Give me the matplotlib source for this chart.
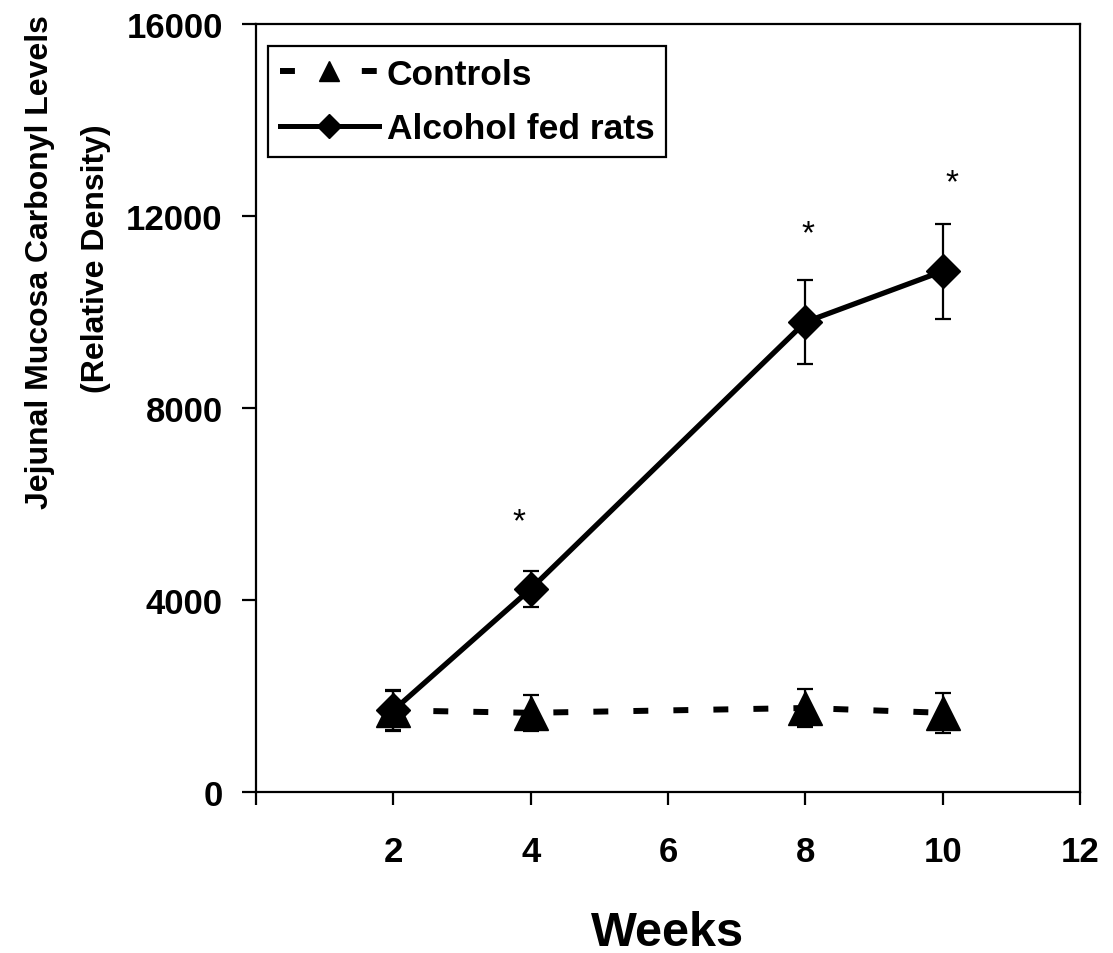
import matplotlib
matplotlib.use("Agg")
import matplotlib.pyplot as plt
from matplotlib.lines import Line2D

plt.rcParams['font.family'] = ['Liberation Sans', 'DejaVu Sans']
plt.rcParams['font.weight'] = 'bold'

# ---- data ----
weeks = [2, 4, 8, 10]
controls_mean = [1700, 1650, 1750, 1650]
controls_err = [400, 380, 400, 420]
alcohol_mean = [1700, 4230, 9790, 10850]
alcohol_err = [420, 370, 880, 990]
star_x = [3.83, 8.04, 10.13]
star_y = [5620, 11620, 12700]
xticks = [0, 2, 4, 6, 8, 10, 12]
xticklabels = ['', '2', '4', '6', '8', '10', '12']
yticks = [0, 4000, 8000, 12000, 16000]
yticklabels = ['0', '4000', '8000', '12000', '16000']
legend_labels = ['Controls', 'Alcohol fed rats']

W, H = 1113, 954
fig = plt.figure(figsize=(W / 100, H / 100), dpi=100)
ax = fig.add_axes([256 / W, (H - 793) / H, (1080 - 256) / W, (793 - 25) / H])

# error bars
ax.errorbar(weeks, controls_mean, yerr=controls_err, fmt='none', ecolor='black',
            elinewidth=1.6, capsize=6, capthick=1.6, zorder=2)
ax.errorbar(weeks, alcohol_mean, yerr=alcohol_err, fmt='none', ecolor='black',
            elinewidth=1.6, capsize=6, capthick=1.6, zorder=2)

# controls dashed line with triangles
ax.plot(weeks, controls_mean, color='black', lw=4.3, dashes=(2.5, 4.2),
        dash_capstyle='butt', zorder=3)
ax.plot(weeks, controls_mean, ls='none', marker='^', ms=25, color='black', zorder=4)

# alcohol solid line with diamonds
ax.plot(weeks, alcohol_mean, color='black', lw=3.8, zorder=5)
ax.plot(weeks, alcohol_mean, ls='none', marker='D', ms=17, color='black', zorder=6)

# asterisks
for sx, sy in zip(star_x, star_y):
    ax.text(sx, sy, '*', fontsize=24, fontweight='normal', ha='center', va='center')

ax.set_xlim(0, 12)
ax.set_ylim(0, 16000)
ax.set_xticks(xticks)
ax.set_xticklabels(xticklabels)
ax.set_yticks(yticks)
ax.set_yticklabels(yticklabels)

for sp in ax.spines.values():
    sp.set_linewidth(1.6)
ax.tick_params(axis='x', direction='out', length=9, width=1.6, pad=22,
               labelsize=25)
ax.tick_params(axis='y', direction='out', length=10, width=1.6, pad=14,
               labelsize=25)
for lbl in ax.get_xticklabels() + ax.get_yticklabels():
    lbl.set_fontweight('bold')

# legend
h_ctrl = Line2D([], [], color='black', lw=4.3, dashes=(2.5, 11.2),
                dash_capstyle='butt', marker='^', ms=15)
h_alc = Line2D([], [], color='black', lw=3.6, marker='D', ms=12)
leg = ax.legend([h_ctrl, h_alc], legend_labels, loc='upper left',
                bbox_to_anchor=((268 - 256) / 824, (793 - 47) / 768),
                borderaxespad=0, fancybox=False, framealpha=1,
                edgecolor='black', handlelength=2.8, handletextpad=0.22,
                labelspacing=0.6, borderpad=0.33,
                prop={'family': 'Liberation Sans', 'weight': 'bold', 'size': 25.5})
leg.get_frame().set_linewidth(1.6)

# axis labels
ax.set_xlabel('Weeks', fontsize=35, fontweight='bold')
ax.xaxis.set_label_coords(0.5, (793 - 911) / 768)
ax.xaxis.label.set_va('top')

fig.text(40 / W, 1 - 262 / H, 'Jejunal Mucosa Carbonyl Levels', rotation=90,
         ha='center', va='center', fontsize=23, fontweight='bold')
fig.text(96 / W, 1 - 259 / H, '(Relative Density)', rotation=90,
         ha='center', va='center', fontsize=23, fontweight='bold')

fig.savefig('out.png', dpi=100)
